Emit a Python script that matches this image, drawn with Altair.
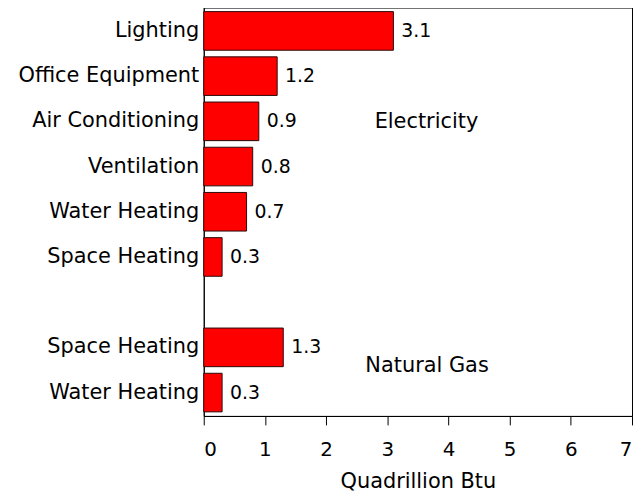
import altair as alt
import pandas as pd

# Row keys (order top to bottom), with display labels after "|"
row_keys = ["01|Lighting", "02|Office Equipment", "03|Air Conditioning",
            "04|Ventilation", "05|Water Heating", "06|Space Heating",
            "07|", "08|Space Heating", "09|Water Heating"]
bar_keys = ["01|Lighting", "02|Office Equipment", "03|Air Conditioning",
            "04|Ventilation", "05|Water Heating", "06|Space Heating",
            "08|Space Heating", "09|Water Heating"]
bar_values = [3.1, 1.2, 0.9, 0.8, 0.7, 0.3, 1.3, 0.3]
x_ticks = [0, 1, 2, 3, 4, 5, 6, 7]

ann_names = ["Electricity", "Natural Gas"]
ann_rows = ["03|Air Conditioning", "08|Space Heating"]
ann_x = [3.64, 3.65]

FONT = "DejaVu Sans"

df = pd.DataFrame({"key": bar_keys, "value": bar_values})
ann1 = pd.DataFrame({"key": [ann_rows[0]], "x": [ann_x[0]], "name": [ann_names[0]]})
ann2 = pd.DataFrame({"key": [ann_rows[1]], "x": [ann_x[1]], "name": [ann_names[1]]})

xscale = alt.Scale(domain=[0, 7], nice=False, zero=True)
yscale = alt.Scale(domain=row_keys, paddingInner=0.146, paddingOuter=0.09)

x_enc = alt.X("value:Q", scale=xscale,
              axis=alt.Axis(values=x_ticks, title="Quadrillion Btu", grid=False,
                            tickSize=9, labelPadding=15, titlePadding=11,
                            labelFontSize=20, titleFontSize=21, titleFontWeight="normal",
                            labelFont=FONT, titleFont=FONT, format="d"))
y_enc = alt.Y("key:N", scale=yscale, sort=row_keys,
              axis=alt.Axis(title=None, ticks=False, labelPadding=5, labelLimit=400,
                            labelFontSize=21, labelFont=FONT,
                            labelExpr="split(datum.value, '|')[1]"))

bars = alt.Chart(df).mark_bar(color="#FF0000", stroke="#2a0a0a", strokeWidth=1).encode(
    x=x_enc, y=y_enc)

vals = alt.Chart(df).mark_text(align="left", baseline="middle", dx=8,
                               fontSize=19, font=FONT, color="black").encode(
    x=alt.X("value:Q", scale=xscale),
    y=alt.Y("key:N", scale=yscale, sort=row_keys),
    text=alt.Text("value:Q", format=".1f"))

t1 = alt.Chart(ann1).mark_text(align="center", baseline="middle", dy=1,
                               fontSize=21, font=FONT, color="black").encode(
    x=alt.X("x:Q", scale=xscale),
    y=alt.Y("key:N", scale=yscale, sort=row_keys),
    text="name:N")
t2 = alt.Chart(ann2).mark_text(align="center", baseline="middle", dy=19,
                               fontSize=21, font=FONT, color="black").encode(
    x=alt.X("x:Q", scale=xscale),
    y=alt.Y("key:N", scale=yscale, sort=row_keys),
    text="name:N")

chart = alt.layer(bars, vals, t1, t2).properties(
    width=431, height=411,
    padding={"top": -2, "left": 10, "right": 0, "bottom": 0}
).configure_view(
    stroke="black", strokeWidth=1
).configure_axis(
    domainColor="black", tickColor="black", labelColor="black", titleColor="black"
)

chart.save("out.html", embed_options={"renderer": "svg", "actions": False})
